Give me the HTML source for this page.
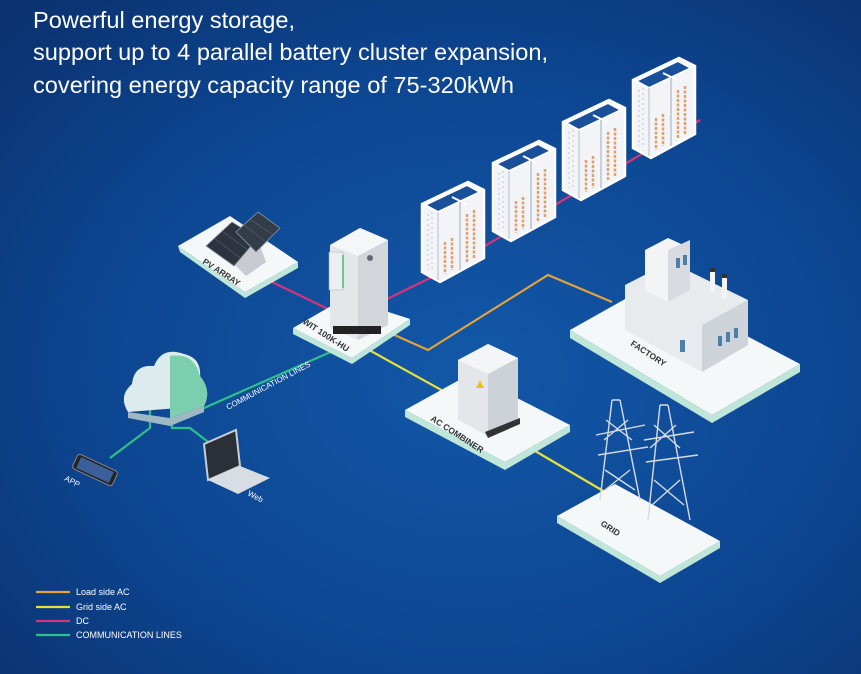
<!DOCTYPE html>
<html><head><meta charset="utf-8"><style>
html,body{margin:0;padding:0;}
body{width:861px;height:674px;overflow:hidden;background:#0c3d84;font-family:"Liberation Sans",sans-serif;}
svg{display:block}
text{font-family:"Liberation Sans",sans-serif;}
</style></head><body>
<svg width="861" height="674" viewBox="0 0 861 674" xmlns="http://www.w3.org/2000/svg">
<defs>
<radialGradient id="bg" cx="0.55" cy="0.55" r="0.75">
<stop offset="0" stop-color="#1258a8"/><stop offset="0.6" stop-color="#0d4590"/><stop offset="1" stop-color="#0a3270"/>
</radialGradient>
<linearGradient id="cloud" x1="0" y1="0" x2="1" y2="1"><stop offset="0" stop-color="#e8f4f2"/><stop offset="1" stop-color="#5fbf9a"/></linearGradient>
<g id="bat">
<polygon points="0,22 46,0 62,8 62,76 18,100 0,90" fill="#f2f4f7" stroke="#fff" stroke-width="2.5"/>
<polygon points="3,23 45,3 58,10 16,30" fill="#1a4f9a" stroke="#fff" stroke-width="2"/>
<line x1="30" y1="15" x2="44" y2="22" stroke="#fff" stroke-width="2"/>
<line x1="16" y1="30" x2="16" y2="98" stroke="#c9d0da" stroke-width="1.5"/>
<line x1="38" y1="20" x2="38" y2="88" stroke="#c9d0da" stroke-width="2"/>
<g stroke="#e0a070" stroke-width="2.5" stroke-dasharray="3,1.5">
<line x1="23" y1="60" x2="23" y2="92"/><line x1="30" y1="56" x2="30" y2="88"/>
<line x1="45" y1="32" x2="45" y2="80"/><line x1="52" y1="28" x2="52" y2="76"/>
</g>
<g stroke="#d0d6de" stroke-width="1.5" stroke-dasharray="2,3"><line x1="6" y1="32" x2="6" y2="88"/><line x1="10" y1="30" x2="10" y2="90"/></g>
</g>
</defs>
<rect width="861" height="674" fill="url(#bg)"/>

<!-- title -->
<text x="33" y="28" fill="#fff" font-size="23.5" textLength="262" lengthAdjust="spacingAndGlyphs">Powerful energy storage,</text>
<text x="33" y="60" fill="#fff" font-size="23.5" textLength="515" lengthAdjust="spacingAndGlyphs">support up to 4 parallel battery cluster expansion,</text>
<text x="33" y="93" fill="#fff" font-size="23.5" textLength="481" lengthAdjust="spacingAndGlyphs">covering energy capacity range of 75-320kWh</text>

<!-- lines -->
<g fill="none" stroke-width="2.2">
<polyline points="272,282 330,310" stroke="#d4357a"/>
<polyline points="385,300 430,278 700,120" stroke="#d4357a"/>
<polyline points="390,333 428,350 548,275 612,302" stroke="#e3a23a"/>
<polyline points="360,345 445,392" stroke="#e8e03a"/>
<polyline points="530,448 605,492" stroke="#e8e03a"/>
<polyline points="335,350 195,412 195,398" stroke="#2ec08a"/>
<polyline points="150,410 150,428 110,458" stroke="#2ec08a"/>
<polyline points="172,415 172,428 190,428 212,445" stroke="#2ec08a"/>
</g>

<!-- platforms -->
<g>
<polygon points="178,246 180,252 245,298 298,268 298,262 245,292" fill="#bfe6d8"/>
<polygon points="178,246 230,216 298,262 245,292" fill="#f5f8f8"/>
<polygon points="293,328 293,334 352,364 410,325 410,319 352,358" fill="#bfe6d8"/>
<polygon points="293,328 345,298 410,319 352,358" fill="#f5f8f8"/>
<polygon points="570,330 570,338 712,423 800,372 800,364 712,415" fill="#bfe6d8"/>
<polygon points="570,330 650,285 800,364 712,415" fill="#f5f8f8"/>
<polygon points="405,410 405,417 505,470 570,432 570,425 505,462" fill="#bfe6d8"/>
<polygon points="405,410 470,374 570,425 505,462" fill="#f5f8f8"/>
<polygon points="557,516 557,523 660,583 720,548 720,541 660,576" fill="#bfe6d8"/>
<polygon points="557,516 615,484 720,541 660,576" fill="#f5f8f8"/>
</g>

<!-- PV panels -->
<g>
<polygon points="232,262 256,234 266,262 246,276" fill="#c8ccd2"/>
<polygon points="206,246 232,222 258,238 234,266" fill="#2d3440" stroke="#8a96a8" stroke-width="0.8"/>
<polygon points="236,232 258,212 280,228 256,252" fill="#343c4a" stroke="#8a96a8" stroke-width="0.8"/>
<g stroke="#59616e" stroke-width="0.6"><line x1="214" y1="238" x2="240" y2="258"/><line x1="222" y1="231" x2="248" y2="250"/><line x1="244" y1="225" x2="266" y2="242"/><line x1="250" y1="219" x2="273" y2="235"/></g>
</g>

<!-- inverter -->
<g>
<polygon points="330,245 360,228 388,240 388,325 358,340 330,328" fill="#e4e7ea"/>
<polygon points="330,245 360,228 388,240 358,256" fill="#f5f6f7"/>
<polygon points="358,256 388,240 388,325 358,340" fill="#d2d6da"/>
<rect x="329" y="252" width="14" height="38" fill="#eceeef" stroke="#aab" stroke-width="0.5"/>
<line x1="343" y1="255" x2="343" y2="288" stroke="#3cbf6a" stroke-width="1.5"/>
<circle cx="370" cy="258" r="3" fill="#667"/>
<rect x="333" y="326" width="48" height="8" fill="#222"/>
</g>

<!-- batteries -->
<use href="#bat" x="422" y="182"/>
<use href="#bat" x="493" y="141"/>
<use href="#bat" x="563" y="100"/>
<use href="#bat" x="633" y="58"/>

<!-- factory -->
<g>
<polygon points="625,285 670,262 748,300 748,345 702,372 625,330" fill="#e8ebee"/>
<polygon points="702,325 748,300 748,345 702,372" fill="#cfd4da"/>
<polygon points="645,250 668,238 690,248 690,290 668,302 645,290" fill="#f2f4f6"/>
<polygon points="668,250 690,240 690,290 668,302" fill="#d8dce0"/>
<rect x="710" y="270" width="5" height="22" fill="#f2f4f6"/>
<rect x="722" y="276" width="5" height="22" fill="#f2f4f6"/>
<rect x="710" y="268" width="5" height="4" fill="#333"/>
<rect x="722" y="274" width="5" height="4" fill="#333"/>
<g fill="#4d7fa8"><rect x="676" y="258" width="4" height="10"/><rect x="683" y="255" width="4" height="10"/><rect x="718" y="336" width="4" height="10"/><rect x="726" y="332" width="4" height="10"/><rect x="734" y="328" width="4" height="10"/><rect x="680" y="340" width="5" height="12"/></g>
</g>

<!-- AC combiner -->
<g>
<polygon points="458,360 488,344 518,358 518,420 488,436 458,420" fill="#e4e7ea"/>
<polygon points="458,360 488,344 518,358 488,374" fill="#f4f5f6"/>
<polygon points="488,374 518,358 518,420 488,436" fill="#cdd2d8"/>
<polygon points="476,388 480,380 484,388" fill="#e8c020"/>
<polygon points="485,432 520,418 520,424 488,438" fill="#333"/>
</g>

<!-- towers -->
<g stroke="#d6dbe2" stroke-width="1.4" fill="none">
<path d="M612,400 L600,500 M620,400 L640,500 M612,400 L620,400 M596,435 L645,425 M598,455 L648,447 M605,470 L635,490 M630,470 L605,490 M606,420 L632,440 M628,420 L604,440"/>
<path d="M660,405 L648,520 M668,405 L690,520 M660,405 L668,405 M644,440 L694,432 M646,462 L698,455 M654,480 L684,505 M680,480 L652,505 M654,425 L680,448 M676,425 L650,448"/>
</g>

<!-- cloud -->
<g>
<path d="M128,412 Q118,396 132,384 Q134,364 154,366 Q162,346 184,354 Q202,358 200,378 Q212,390 204,406 Z" fill="#dcebee"/>
<path d="M170,356 Q194,352 200,376 Q212,390 204,406 L170,418 Z" fill="#7ccfae"/>
<path d="M128,412 L170,418 L204,406 L204,412 L170,426 L128,418 Z" fill="#9fb8c4"/>
</g>

<!-- phone -->
<g transform="translate(95,470) rotate(25)">
<rect x="-22" y="-8" width="44" height="16" rx="3" fill="#222" stroke="#888" stroke-width="1"/>
<rect x="-18" y="-6" width="36" height="12" fill="#3a5f9a"/>
</g>
<!-- laptop -->
<g>
<polygon points="204,444 236,430 240,466 208,480" fill="#2a2f38" stroke="#c9ced6" stroke-width="2"/>
<polygon points="208,480 240,466 270,478 238,494" fill="#d8dde3"/>
</g>

<!-- labels -->
<g fill="#333" font-size="8.5" font-weight="bold">
<text transform="translate(202,263) rotate(33)">PV ARRAY</text>
<text transform="translate(302,323) rotate(33)">WIT 100K-HU</text>
<text transform="translate(630,345) rotate(33)">FACTORY</text>
<text transform="translate(430,420) rotate(33)">AC COMBINER</text>
<text transform="translate(600,525) rotate(33)">GRID</text>
</g>
<text transform="translate(228,410) rotate(-28)" fill="#fff" font-size="8">COMMUNICATION LINES</text>
<text transform="translate(64,480) rotate(28)" fill="#fff" font-size="8">APP</text>
<text transform="translate(247,495) rotate(28)" fill="#fff" font-size="8">Web</text>

<!-- legend -->
<g stroke-width="2.2">
<line x1="36" y1="592" x2="70" y2="592" stroke="#e3a23a"/>
<line x1="36" y1="607" x2="70" y2="607" stroke="#e8e03a"/>
<line x1="36" y1="621" x2="70" y2="621" stroke="#d4357a"/>
<line x1="36" y1="635" x2="70" y2="635" stroke="#2ec08a"/>
</g>
<g fill="#fff" font-size="9">
<text x="76" y="595">Load side AC</text>
<text x="76" y="610">Grid side AC</text>
<text x="76" y="624">DC</text>
<text x="76" y="638">COMMUNICATION LINES</text>
</g>
</svg>
</body></html>
